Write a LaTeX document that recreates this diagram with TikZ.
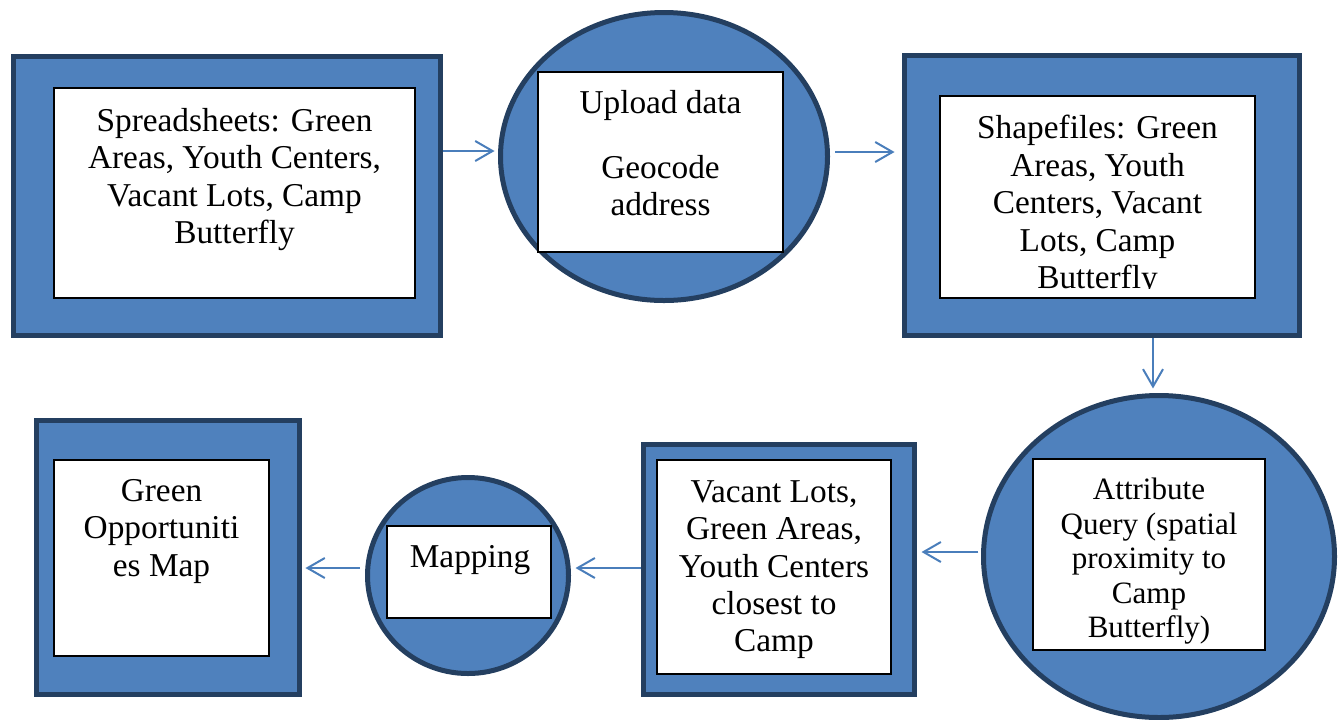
\documentclass[tikz,border=0pt]{standalone}
\usepackage{fontspec}
\setmainfont{Liberation Serif}
\usetikzlibrary{arrows.meta,calc,shapes.geometric}
\definecolor{fillblue}{HTML}{4F81BD}
\definecolor{darkline}{HTML}{243F60}
\definecolor{arrowblue}{HTML}{4A7EBB}
\begin{document}
\begin{tikzpicture}[x=0.75pt,y=-0.75pt,
  outerbox/.style={rectangle, draw=darkline, fill=fillblue, line width=3.75pt, inner sep=0pt},
  outercirc/.style={ellipse, draw=darkline, fill=fillblue, line width=3.75pt, inner sep=0pt},
  innerbox/.style={rectangle, draw=black, fill=white, line width=0.8pt, inner sep=0pt},
  txt/.style={font=\fontsize{25}{28.1}\selectfont, align=center, inner sep=0pt, anchor=north},
  smalltxt/.style={font=\fontsize{23.3}{25.9}\selectfont, align=center, inner sep=0pt, anchor=north},
  arr/.style={draw=arrowblue, line width=1.5pt, -{Straight Barb[length=13pt,width=15pt]}}]
\useasboundingbox (0,0) rectangle (1341,719);

% Spreadsheets
\node[outerbox, minimum width={427*0.75pt}, minimum height={279*0.75pt}] (s1) at (227,196) {};
\node[innerbox, minimum width={361*0.75pt}, minimum height={210*0.75pt}] (s1i) at (234.5,193) {};
\node[txt] (t1) at (234.5,108) {Spreadsheets: Green\\Areas, Youth Centers,\\Vacant Lots, Camp\\Butterfly};

% Upload data
\node[outercirc, minimum width={327*0.75pt}, minimum height={288*0.75pt}] (c1) at (664,156.5) {};
\node[innerbox, minimum width={245*0.75pt}, minimum height={180*0.75pt}] (c1i) at (660.5,162) {};
\node[txt] (t2) at (660.5,90) {Upload data\\[20.5pt]Geocode\\address};

% Shapefiles
\node[outerbox, minimum width={395*0.75pt}, minimum height={280*0.75pt}] (s3) at (1102,195.5) {};
\node[innerbox, minimum width={315*0.75pt}, minimum height={202*0.75pt}] (s3i) at (1097.5,197) {};
\begin{scope}
  \clip (s3i.north west) rectangle ($(s3i.south east)+(0,-10)$);
  \node[txt] (t3) at (1097.5,115) {Shapefiles: Green\\Areas, Youth\\Centers, Vacant\\Lots, Camp\\Butterfly};
\end{scope}

% Attribute query
\node[outercirc, minimum width={351*0.75pt}, minimum height={322*0.75pt}] (c4) at (1159,556.5) {};
\node[innerbox, minimum width={232*0.75pt}, minimum height={191*0.75pt}] (c4i) at (1149,554.5) {};
\node[smalltxt] (t4) at (1149,478) {Attribute\\Query (spatial\\proximity to\\Camp\\Butterfly)};

% Vacant lots
\node[outerbox, minimum width={271*0.75pt}, minimum height={250*0.75pt}] (s5) at (779,569.5) {};
\node[innerbox, minimum width={234*0.75pt}, minimum height={214*0.75pt}] (s5i) at (774,567) {};
\node[txt] (t5) at (774,480) {Vacant Lots,\\Green Areas,\\Youth Centers\\closest to\\Camp};

% Mapping
\node[outercirc, minimum width={201*0.75pt}, minimum height={196*0.75pt}] (c6) at (468,575.5) {};
\node[innerbox, minimum width={164*0.75pt}, minimum height={92*0.75pt}] (c6i) at (469,572) {};
\node[txt] (t6) at (470,545) {Mapping};

% Green opportunities map
\node[outerbox, minimum width={263*0.75pt}, minimum height={274*0.75pt}] (s7) at (168,557.5) {};
\node[innerbox, minimum width={215*0.75pt}, minimum height={196*0.75pt}] (s7i) at (161.5,558) {};
\node[txt] (t7) at (161.5,479) {Green\\Opportuniti\\es Map};

% connectors
\draw[arr, shorten >=2.6pt] ($(s1.east)+(0,-45)$) coordinate (a1) -- (a1 -| c1.west);
\draw[arr, shorten <=4pt, shorten >=5.6pt] ($(c1.east)+(0,-4.5)$) coordinate (a2) -- (a2 -| s3.west);
\draw[arr, shorten >=3.4pt] ($(s3.south)+(51,0)$) coordinate (a3) -- (a3 |- c4.north);
\draw[arr, shorten <=2pt, shorten >=3.4pt] ($(c4.west)+(0,-4.5)$) coordinate (a4) -- (a4 -| s5.east);
\draw[arr, shorten >=3.4pt] ($(s5.west)+(0,-1.5)$) coordinate (a5) -- (a5 -| c6.east);
\draw[arr, shorten <=4pt, shorten >=2.6pt] ($(c6.west)+(0,-7.5)$) coordinate (a6) -- (a6 -| s7.east);
\end{tikzpicture}
\end{document}
